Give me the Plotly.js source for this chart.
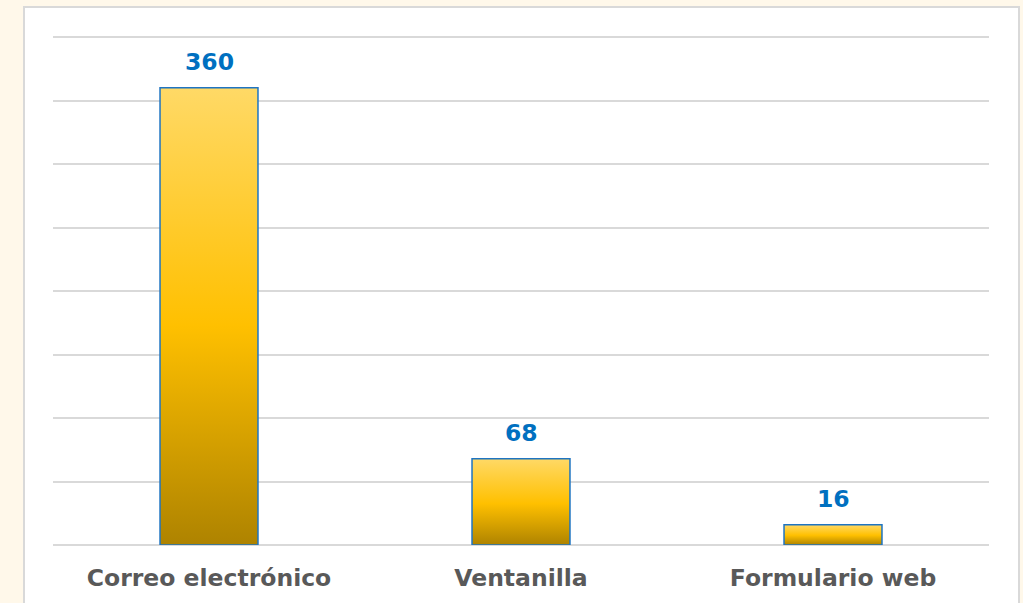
<!DOCTYPE html>
<html>
<head>
<meta charset="utf-8">
<script src="https://cdn.plot.ly/plotly-3.0.1.min.js"></script>
<style>
  html, body { margin: 0; padding: 0; background: #FFF8EA; width: 1023px; height: 603px; overflow: hidden; }
  #box { position: absolute; left: 23px; top: 6px; width: 993px; height: 620px; background: #ffffff; border: 2px solid #d9d9d9; }
  #chart { position: absolute; left: 0; top: 0; width: 1023px; height: 603px; }
</style>
</head>
<body>
<div id="box"></div>
<div id="chart"></div>
<script>
const categories = ["Correo electrónico", "Ventanilla", "Formulario web"];
const values = [360, 68, 16];

const FONT = "DejaVu Sans, Verdana, sans-serif";

const trace = {
  type: "bar",
  x: categories,
  y: values,
  marker: { color: "#FFC000", line: { color: "#1E74C2", width: 1.5 } },
  hoverinfo: "none"
};

const annotations = categories.map((c, i) => ({
  x: c, y: values[i], xref: "x", yref: "y",
  text: String(values[i]),
  showarrow: false, yanchor: "bottom", yshift: 10,
  font: { family: FONT, size: 23.5, color: "#0070C0", weight: "bold" }
}));

const layout = {
  width: 1023, height: 603,
  margin: { l: 53, r: 34, t: 32, b: 58 },
  paper_bgcolor: "rgba(0,0,0,0)",
  plot_bgcolor: "rgba(0,0,0,0)",
  bargap: 0.686,
  showlegend: false,
  xaxis: {
    showgrid: false, showline: false, ticks: "",
    ticklabelstandoff: 16,
    tickfont: { family: FONT, size: 23.5, color: "#595959", weight: "bold" }
  },
  yaxis: {
    range: [0, 404], dtick: 50, showticklabels: false, ticks: "",
    gridcolor: "#d9d9d9", gridwidth: 2,
    zeroline: true, zerolinecolor: "#d9d9d9", zerolinewidth: 2,
    showline: false
  },
  annotations: annotations
};

Plotly.newPlot("chart", [trace], layout, { staticPlot: true }).then(function (gd) {
  const svg = gd.querySelector("svg.main-svg");
  const ns = "http://www.w3.org/2000/svg";
  let defs = svg.querySelector("defs");
  if (!defs) { defs = document.createElementNS(ns, "defs"); svg.insertBefore(defs, svg.firstChild); }
  const lg = document.createElementNS(ns, "linearGradient");
  lg.setAttribute("id", "barGrad");
  lg.setAttribute("x1", "0"); lg.setAttribute("y1", "0");
  lg.setAttribute("x2", "0"); lg.setAttribute("y2", "1");
  [["0%", "#FFD966"], ["52%", "#FFC000"], ["100%", "#AE8300"]].forEach(function (s) {
    const st = document.createElementNS(ns, "stop");
    st.setAttribute("offset", s[0]);
    st.setAttribute("stop-color", s[1]);
    lg.appendChild(st);
  });
  defs.appendChild(lg);
  gd.querySelectorAll(".bars .point path").forEach(function (p) {
    p.style.fill = "url(#barGrad)";
  });
});
</script>
</body>
</html>
